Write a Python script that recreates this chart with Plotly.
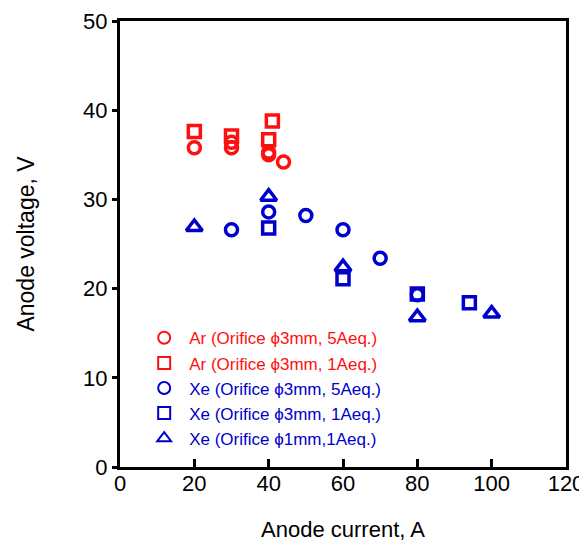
import plotly.graph_objects as go

# Ar, orifice phi3mm, 5Aeq
ar5_x = [20, 30, 30, 40, 40, 44]
ar5_y = [35.8, 36.4, 35.8, 35.3, 35.0, 34.2]
# Ar, orifice phi3mm, 1Aeq
ar1_x = [20, 30, 40, 41]
ar1_y = [37.6, 37.1, 36.7, 38.8]
# Xe, orifice phi3mm, 5Aeq
xe5_x = [30, 40, 50, 60, 70, 80]
xe5_y = [26.6, 28.6, 28.2, 26.6, 23.4, 19.3]
# Xe, orifice phi3mm, 1Aeq
xe1_x = [40, 60, 80, 94]
xe1_y = [26.8, 21.1, 19.4, 18.4]
# Xe, orifice phi1mm, 1Aeq
xe1mm_x = [20, 40, 60, 80, 100]
xe1mm_y = [26.9, 30.3, 22.4, 16.8, 17.2]

RED = "#ff1010"
BLUE = "#0000cc"

series = [
    (ar5_x, ar5_y, "circle-open", RED, "Ar (Orifice ϕ3mm, 5Aeq.)", 12),
    (ar1_x, ar1_y, "square-open", RED, "Ar (Orifice ϕ3mm, 1Aeq.)", 12),
    (xe5_x, xe5_y, "circle-open", BLUE, "Xe (Orifice ϕ3mm, 5Aeq.)", 12),
    (xe1_x, xe1_y, "square-open", BLUE, "Xe (Orifice ϕ3mm, 1Aeq.)", 12),
    (xe1mm_x, xe1mm_y, "triangle-up-open", BLUE, "Xe (Orifice ϕ1mm,1Aeq.)", 14),
]

fig = go.Figure()
for x, y, sym, col, name, sz in series:
    fig.add_trace(go.Scatter(
        x=x, y=y, mode="markers", name=f"<span style='color:{col}'>{name}</span>",
        marker=dict(symbol=sym, size=sz, color=col, line=dict(width=3.5, color=col)),
    ))

# page body has an 8px margin, so the figure is shrunk by 8px to fit the window
fig.update_layout(
    width=579, height=537,
    margin=dict(l=112, r=21, t=13, b=78),
    paper_bgcolor="white", plot_bgcolor="white",
    font=dict(family="Arial, Liberation Sans, sans-serif", color="black"),
    showlegend=True,
    legend=dict(x=0.043, y=0.329, xanchor="left", yanchor="top",
                bgcolor="rgba(0,0,0,0)", font=dict(size=17),
                tracegroupgap=0, itemsizing="constant", itemwidth=40),
)
fig.update_xaxes(
    range=[0, 120], tickvals=[0, 20, 40, 60, 80, 100, 120],
    ticks="inside", ticklen=8, tickwidth=3, tickcolor="black",
    showline=True, linewidth=3, linecolor="black", mirror=True,
    showgrid=False, zeroline=False, tickfont=dict(size=22), automargin=False,
    ticklabelstandoff=-5,
    title=dict(text="Anode current, A", font=dict(size=22), standoff=27),
)
fig.update_yaxes(
    range=[0, 50], tickvals=[0, 10, 20, 30, 40, 50],
    ticks="outside", ticklen=5, tickwidth=3, tickcolor="black",
    showline=True, linewidth=3, linecolor="black", mirror=True,
    showgrid=False, zeroline=False, tickfont=dict(size=22), automargin=False,
    title=dict(text="Anode voltage, V", font=dict(size=23), standoff=43),
)

fig.write_html("out.html")
